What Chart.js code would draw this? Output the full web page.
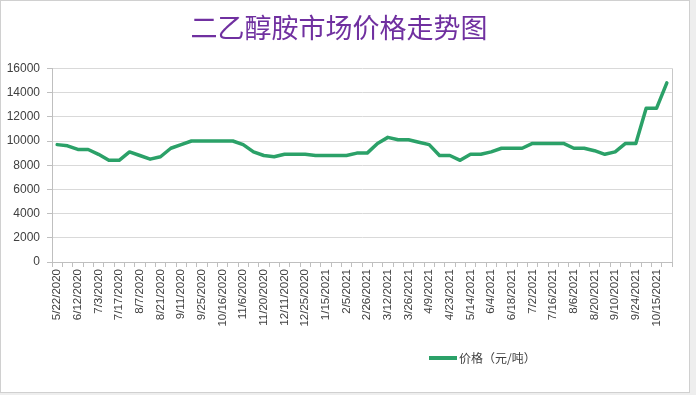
<!DOCTYPE html>
<html>
<head>
<meta charset="utf-8">
<script src="https://cdn.jsdelivr.net/npm/chart.js@4"></script>
<style>
  html, body { margin: 0; padding: 0; background: #eeeeee; }
  #wrap { position: relative; width: 696px; height: 395px; overflow: hidden; }
  #frame { position: absolute; left: 0; top: 0; width: 688px; height: 391px; background: #fff; border: 1px solid #d0d0d0; }
  #chart { position: absolute; left: 0; top: 0; }
  #legend { position: absolute; left: 429px; top: 349px; font: 12px "Noto Sans CJK SC", sans-serif; color: #404040; display: flex; align-items: center; }
  #legend span.line { display: inline-block; width: 28px; height: 4px; margin-right: 2px; }
</style>
</head>
<body>
<div id="wrap">
  <div id="frame"></div>
  <canvas id="chart" width="696" height="395"></canvas>
  <div id="legend"></div>
</div>
<script>
// chart data
const chartTitle = '二乙醇胺市场价格走势图';
const seriesName = '价格（元/吨）';
const dates = [
  '5/22/2020','5/29/2020','6/12/2020','6/19/2020','7/3/2020','7/10/2020','7/17/2020','7/24/2020',
  '8/7/2020','8/14/2020','8/21/2020','8/28/2020','9/11/2020','9/18/2020','9/25/2020','10/9/2020',
  '10/16/2020','10/23/2020','11/6/2020','11/13/2020','11/20/2020','11/27/2020','12/11/2020','12/18/2020',
  '12/25/2020','1/8/2021','1/15/2021','1/22/2021','2/5/2021','2/19/2021','2/26/2021','3/5/2021',
  '3/12/2021','3/19/2021','3/26/2021','4/2/2021','4/9/2021','4/16/2021','4/23/2021','4/30/2021',
  '5/14/2021','5/21/2021','6/4/2021','6/11/2021','6/18/2021','6/25/2021','7/2/2021','7/9/2021',
  '7/16/2021','7/23/2021','8/6/2021','8/13/2021','8/20/2021','8/27/2021','9/10/2021','9/17/2021',
  '9/24/2021','10/8/2021','10/15/2021','10/22/2021'
];
const prices = [
  9700, 9600, 9300, 9300, 8900, 8400, 8400, 9100, 8800, 8500,
  8700, 9400, 9700, 10000, 10000, 10000, 10000, 10000, 9700, 9100,
  8800, 8700, 8900, 8900, 8900, 8800, 8800, 8800, 8800, 9000,
  9000, 9800, 10300, 10100, 10100, 9900, 9700, 8800, 8800, 8400,
  8900, 8900, 9100, 9400, 9400, 9400, 9800, 9800, 9800, 9800,
  9400, 9400, 9200, 8900, 9100, 9800, 9800, 12700, 12700, 14800
];
const yMin = 0, yMax = 16000, yStep = 2000;

const lineColor = '#2ba168';

// right border of the plot area
const plotBorder = {
  id: 'plotBorder',
  afterDraw(chart) {
    const a = chart.chartArea, ctx = chart.ctx;
    ctx.save();
    ctx.strokeStyle = '#c8c8c8';
    ctx.lineWidth = 1;
    ctx.beginPath();
    ctx.moveTo(Math.round(a.right) + 0.5, a.top);
    ctx.lineTo(Math.round(a.right) + 0.5, a.bottom);
    ctx.stroke();
    ctx.restore();
  }
};

const ctx = document.getElementById('chart').getContext('2d');
const chart = new Chart(ctx, {
  type: 'line',
  data: {
    labels: dates,
    datasets: [{
      label: seriesName,
      data: prices,
      borderColor: lineColor,
      backgroundColor: lineColor,
      borderWidth: 3.5,
      pointRadius: 0,
      tension: 0,
      borderJoinStyle: 'round',
      borderCapStyle: 'round'
    }]
  },
  options: {
    responsive: false,
    animation: false,
    layout: { padding: { left: 6, right: 24, top: 0, bottom: 43 } },
    plugins: {
      legend: { display: false },
      tooltip: { enabled: false },
      title: {
        display: true,
        text: chartTitle,
        color: '#7030a0',
        font: { family: '"Noto Sans CJK SC", sans-serif', size: 27, weight: 'normal', lineHeight: 1.2 },
        padding: { top: 12, bottom: 24 }
      }
    },
    scales: {
      x: {
        offset: true,
        grid: { display: true, drawOnChartArea: false, drawTicks: true, tickLength: 5, offset: true, color: '#bfbfbf' },
        border: { color: '#bfbfbf' },
        ticks: {
          autoSkip: false,
          minRotation: 90,
          maxRotation: 90,
          padding: 2,
          color: '#404040',
          font: { family: '"Liberation Sans", Arial, sans-serif', size: 11.5 },
          callback: function (value, index) {
            return index % 2 === 0 ? dates[index] : '';
          }
        },
        afterFit(scale) { scale.height = 90; }
      },
      y: {
        min: yMin,
        max: yMax,
        grid: { color: '#d9d9d9', tickLength: 5, tickColor: '#bfbfbf' },
        border: { color: '#bfbfbf' },
        ticks: {
          stepSize: yStep,
          padding: 7,
          color: '#404040',
          font: { family: '"Liberation Sans", Arial, sans-serif', size: 12 },
          callback: function (value) { return String(value); }
        },
        afterFit(scale) { scale.width = 46; }
      }
    }
  },
  plugins: [plotBorder]
});

// legend drawn from the dataset
const legend = document.getElementById('legend');
chart.data.datasets.forEach(function (ds) {
  const line = document.createElement('span');
  line.className = 'line';
  line.style.background = ds.borderColor;
  const txt = document.createElement('span');
  txt.textContent = ds.label;
  legend.appendChild(line);
  legend.appendChild(txt);
});
</script>
</body>
</html>
